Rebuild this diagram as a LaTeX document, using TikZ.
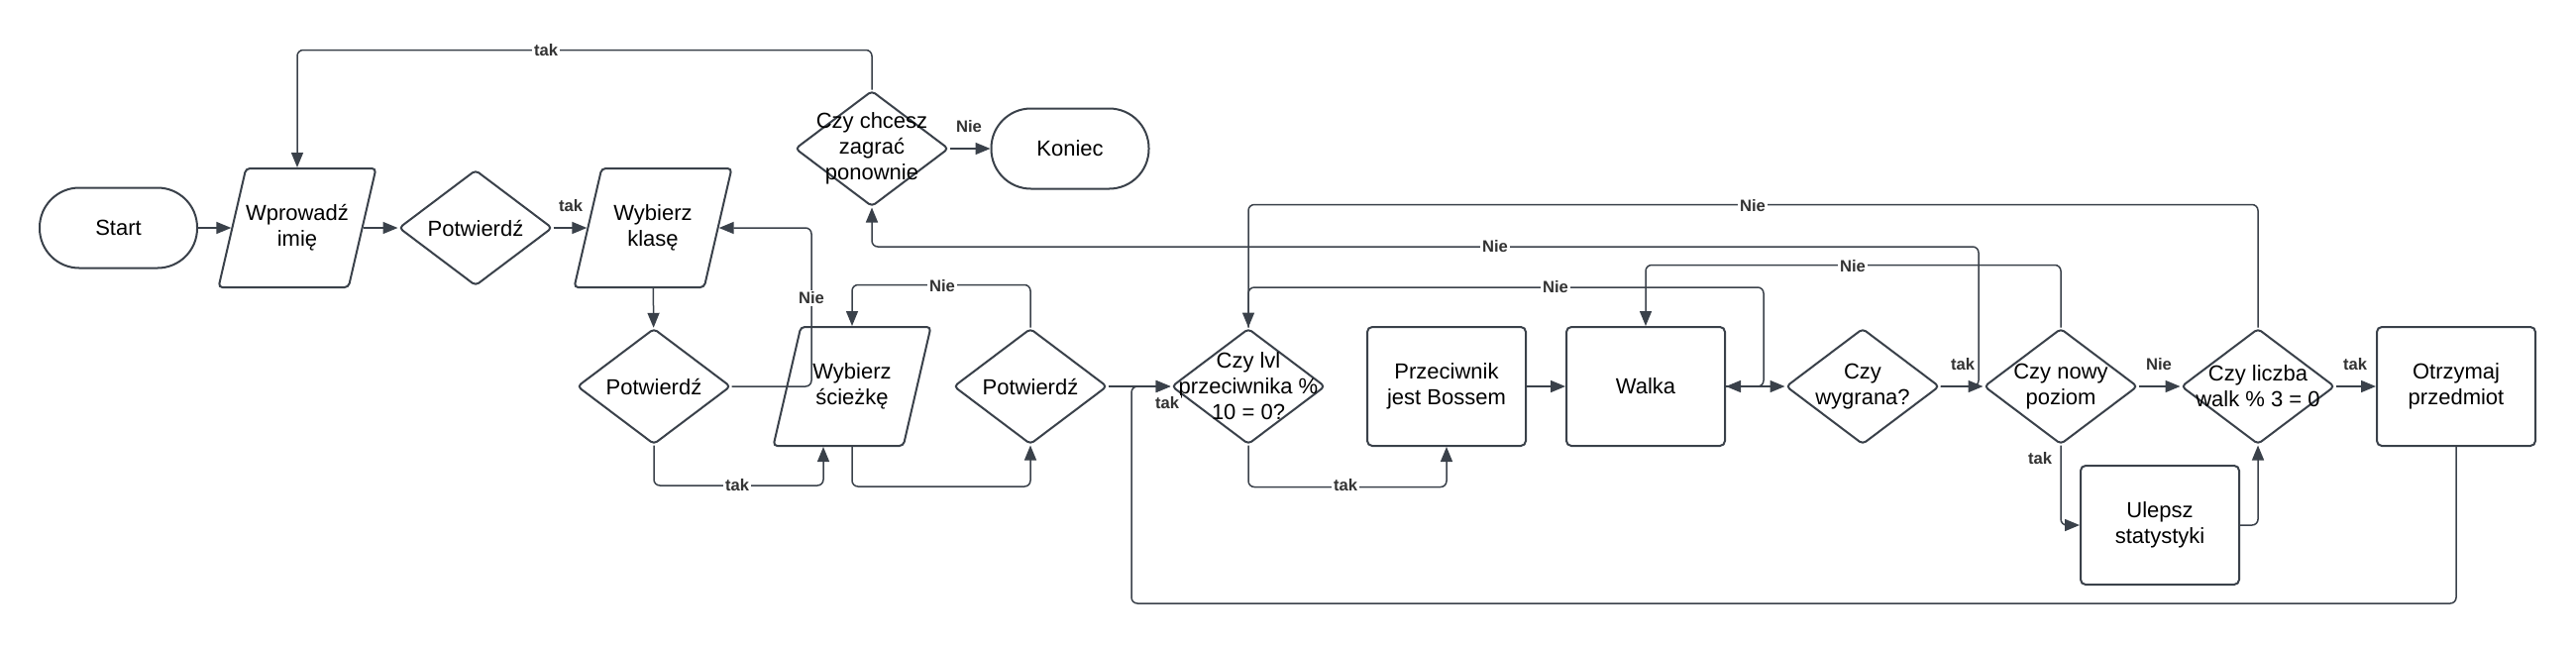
\documentclass[tikz,border=0pt]{standalone}
\usepackage{fontspec}
\setmainfont{Liberation Sans}
\usetikzlibrary{shapes.geometric}
\usetikzlibrary{arrows.meta}
\definecolor{edgecol}{RGB}{58,65,74}
\definecolor{labcol}{RGB}{51,51,51}
\tikzset{
  base/.style={draw=edgecol, line width=1pt, fill=white, inner sep=0pt},
  txt/.style={font=\fontsize{11}{13}\selectfont, align=center},
  term/.style={base, rectangle, rounded corners=20pt, minimum width=79.5pt, minimum height=40.5pt, txt},
  io/.style={base, trapezium, trapezium left angle=75, trapezium right angle=105, inner sep=2pt, trapezium stretches=true, minimum width=79.5pt, minimum height=60pt, rounded corners=2pt},
  dec/.style={base, diamond, minimum width=77.5pt, minimum height=58.5pt, rounded corners=2pt},
  proc/.style={base, rectangle, minimum width=80pt, minimum height=60pt, rounded corners=2.5pt, txt},
  lab/.style={font=\fontsize{8.3}{10}\selectfont\bfseries, text=labcol, fill=white, inner sep=1pt},
  conn/.style={draw=edgecol, line width=0.75pt, rounded corners=3pt, -{Triangle[length=7.5pt,width=6pt]}},
}
\begin{document}
\begin{tikzpicture}[x=0.5pt,y=-0.5pt]
\useasboundingbox (0,0) rectangle (2600,650);
% first row
\node[term] (start) at (119.5,230) {Start};
\node[io, label={[txt]center:Wprowadź\\imię}] (name) at (300,230) {};
\node[dec, label={[txt]center:Potwierdź}] (conf1) at (480,230) {};
\node[io, label={[txt]center:Wybierz\\klasę}] (cls) at (659,230) {};
\node[dec, label={[txt]center:Czy chcesz\\zagrać\\ponownie}] (again) at (880,150) {};
\node[term] (end) at (1080,150) {Koniec};
% second row
\node[dec, label={[txt]center:Potwierdź}] (conf2) at (660,390) {};
\node[io, label={[txt]center:Wybierz\\ścieżkę}] (path) at (860,390) {};
\node[dec, label={[txt]center:Potwierdź}] (conf3) at (1040,390) {};
\node[dec, label={[txt]center:Czy lvl\\przeciwnika \%\\10 = 0?}] (lvl) at (1260,390) {};
\node[proc] (boss) at (1460,390) {Przeciwnik\\jest Bossem};
\node[proc] (fight) at (1661,390) {Walka};
\node[dec, label={[txt]center:Czy\\wygrana?}] (win) at (1880,390) {};
\node[dec, label={[txt]center:Czy nowy\\poziom}] (newlvl) at (2080,390) {};
\node[dec, label={[txt]center:Czy liczba\\walk \% 3 = 0}] (cnt) at (2279,390) {};
\node[proc] (item) at (2479,390) {Otrzymaj\\przedmiot};
\node[proc] (stats) at (2180,530) {Ulepsz\\statystyki};

\coordinate (n1) at (819,230);
\coordinate (n3) at (831,490);
\coordinate (n4) at (1142,609);
\coordinate (n5) at (1997,249);
\coordinate (n6) at (1780,290);

\draw[conn] (start) -- (name);
\draw[conn] (name) -- (conf1);
\draw[conn] (conf1) -- (cls);
\draw[conn] (cls) -- (conf2);
\draw[conn] (conf2.east) -| (n1) -- (cls.east);
\draw[conn] (conf2.south) |- (n3) -- (n3 |- path.south);
\draw[conn] (path.south) -- ++(0,40) -| (conf3.south);
\draw[conn] (conf3.north) -- ++(0,-43) -| (path.north);
\draw[conn] (conf3) -- (lvl);
\draw[conn] (item.south) |- (n4) |- (lvl.west);
\draw[conn] (lvl.south) -- ++(0,42) -| (boss.south);
\draw[conn] (boss) -- (fight);
\draw[conn] (fight) -- (win);
\draw[conn] (win) -- (newlvl);
\draw[conn] (win.east) -| (n5) -| (again.south);
\draw[conn] (lvl.north) |- (n6) |- (fight.east);
\draw[conn] (newlvl.north) -- ++(0,-63) -| (fight.north);
\draw[conn] (cnt.north) -- ++(0,-124) -| (lvl.north);
\draw[conn] (newlvl) -- (cnt);
\draw[conn] (newlvl.south) |- (stats.west);
\draw[conn] (stats.east) -| (cnt.south);
\draw[conn] (cnt) -- (item);
\draw[conn] (again.north) -- ++(0,-40) -| (name.north);
\draw[conn] (again) -- (end);

% labels
\node[lab] (l1) at (576,208) {tak};
\node[lab] (l2) at (819,301) {Nie};
\node[lab] (l3) at (744,490) {tak};
\node[lab] (l4) at (951,289) {Nie};
\node[lab] (l5) at (1178,407) {tak};
\node[lab] (l6) at (1358,490) {tak};
\node[lab] (l7) at (1509,249) {Nie};
\node[lab] (l8) at (1570,290) {Nie};
\node[lab] (l9) at (1870,269) {Nie};
\node[lab] (l10) at (1769,208) {Nie};
\node[lab] (l11) at (1981,368) {tak};
\node[lab] (l12) at (2179,368) {Nie};
\node[lab] (l13) at (2059,463) {tak};
\node[lab] (l14) at (2377,368) {tak};
\node[lab] (l15) at (551,51) {tak};
\node[lab] (l16) at (978,128) {Nie};
\end{tikzpicture}
\end{document}
